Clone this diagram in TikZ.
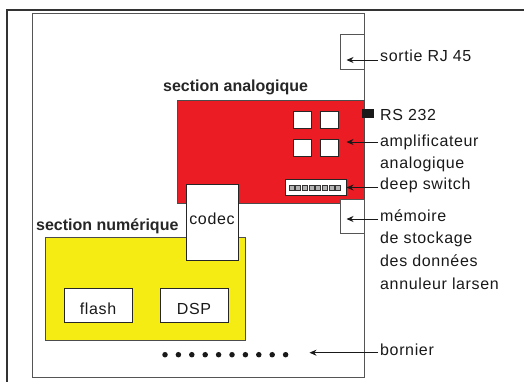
\documentclass[tikz,border=0pt]{standalone}
\usepackage{fontspec}
\setmainfont{Liberation Sans}
\newfontfamily\lblfont[LetterSpace=4]{Liberation Sans}
\usetikzlibrary{arrows.meta}
\definecolor{boardred}{HTML}{EC1C24}
\definecolor{boardyellow}{HTML}{F5EC14}
\definecolor{framegray}{HTML}{333333}
\definecolor{linegray}{HTML}{555555}
\begin{document}
\begin{tikzpicture}[x=1pt,y=-1pt,
  lbl/.style={font=\lblfont\fontsize{16}{18}\selectfont, inner sep=0pt, anchor=base west, text=black!90},
  title/.style={font=\bfseries\fontsize{16}{18}\selectfont, inner sep=0pt, anchor=base west, text=black!85},
  whitebox/.style={draw=black!85, line width=0.9pt, fill=white},
  pointer/.style={-{Stealth[length=7pt,width=6pt]}, line width=0.8pt, black!90},
  dotstyle/.style={circle, fill=black!90, inner sep=0pt, minimum size=5.5pt}
]
\useasboundingbox (0,0) rectangle (524,381);
% outer frame (cropped)
\draw[framegray, line width=2pt] (7,390) -- (7,10) -- (530,10);
% inner casing
\draw[linegray, line width=1pt] (32,13) rectangle (364.5,377);
% RJ45 box
\node[draw=linegray, line width=0.9pt, fill=white, minimum width=24pt, minimum height=35pt, inner sep=0pt] (rj) at (352.5,51.5) {};
% red analog board
\node[fill=boardred, draw=black!70, line width=0.8pt, minimum width=187pt, minimum height=103pt, inner sep=0pt] (ana) at (270.5,151.5) {};
\node[title] (anatitle) at (163,91) {section analogique};
% RS232 connector
\node[fill=black!90, minimum width=12pt, minimum height=9pt, inner sep=0pt] (rs) at (367.5,113.5) {};
% amplifier squares
\node[whitebox, minimum width=18pt, minimum height=17pt, inner sep=0pt] (sq1) at (302,119.5) {};
\node[whitebox, minimum width=18pt, minimum height=17pt, inner sep=0pt] (sq2) at (329.5,119.5) {};
\node[whitebox, minimum width=18pt, minimum height=17pt, inner sep=0pt] (sq3) at (302,148) {};
\node[whitebox, minimum width=18pt, minimum height=17pt, inner sep=0pt] (sq4) at (329.5,148) {};
% deep switch
\node[whitebox, minimum width=61pt, minimum height=16pt, inner sep=0pt] (sw) at (315.5,187) {};
\foreach \i in {0,...,7}{
  \node[draw=black!80, fill=black!30, line width=0.6pt, minimum width=5pt, minimum height=5pt, inner sep=0pt] (sw\i) at (291.5+\i*6.65,187.5) {};
}
% memory box
\node[draw=linegray, line width=0.9pt, fill=white, minimum width=24pt, minimum height=34pt, inner sep=0pt] (mem) at (352.5,216) {};
% yellow digital board
\node[fill=boardyellow, draw=black!70, line width=0.8pt, minimum width=200pt, minimum height=103pt, inner sep=0pt] (num) at (145,288.5) {};
\node[title] (numtitle) at (36,230) {section numérique};
% codec
\node[whitebox, minimum width=52pt, minimum height=76pt, inner sep=0pt] (codec) at (212,222) {};
\node[lbl, anchor=base] (codectxt) at (212,224) {codec};
% flash and DSP
\node[whitebox, minimum width=68pt, minimum height=34pt, inner sep=0pt] (flash) at (98,305) {};
\node[lbl, anchor=base] (flashtxt) at (98,314) {flash};
\node[whitebox, minimum width=68pt, minimum height=34pt, inner sep=0pt] (dsp) at (194,305) {};
\node[lbl, anchor=base] (dsptxt) at (194,314) {DSP};
% terminal block dots
\foreach \i in {0,...,9}{
  \node[dotstyle] (dot\i) at (165+\i*13.4,354.7) {};
}
% right labels
\node[lbl] (lrj) at (380,61.5) {sortie RJ 45};
\node[lbl] (lrs) at (380,120.5) {RS 232};
\node[lbl] (lamp1) at (380,146) {amplificateur};
\node[lbl] (lamp2) at (380,168) {analogique};
\node[lbl] (lsw) at (380,189.5) {deep switch};
\node[lbl] (lmem1) at (380,221.5) {mémoire};
\node[lbl] (lmem2) at (380,243.5) {de stockage};
\node[lbl] (lmem3) at (380,266.5) {des données};
\node[lbl] (lmem4) at (380,289) {annuleur larsen};
\node[lbl] (lbor) at (380,355) {bornier};
% arrow heads
\coordinate (hrj) at (346.5,60);
\coordinate (hamp) at (346.5,142);
\coordinate (hsw) at (346.5,187.5);
\coordinate (hmem) at (346.5,219);
\coordinate (hbor) at (309.5,352.7);
\draw[pointer] (lrj.west |- hrj) ++(-2,0) -- (hrj);
\draw[pointer] (lamp1.west |- hamp) ++(-2,0) -- (hamp);
\draw[pointer] (lsw.west |- hsw) ++(-2,0) -- (hsw);
\draw[pointer] (lmem1.west |- hmem) ++(-2,0) -- (hmem);
\draw[pointer] (lbor.west |- hbor) ++(-2,0) -- (hbor);
\end{tikzpicture}
\end{document}
